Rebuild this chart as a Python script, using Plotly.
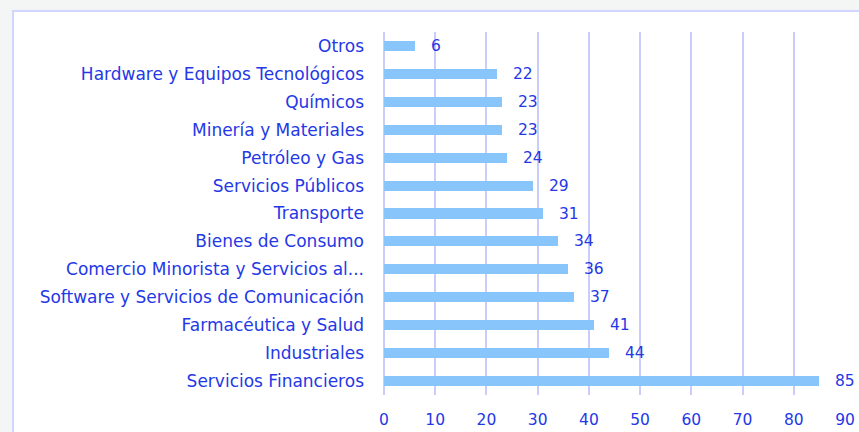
import plotly.graph_objects as go

categories = [
    "Otros",
    "Hardware y Equipos Tecnológicos",
    "Químicos",
    "Minería y Materiales",
    "Petróleo y Gas",
    "Servicios Públicos",
    "Transporte",
    "Bienes de Consumo",
    "Comercio Minorista y Servicios al...",
    "Software y Servicios de Comunicación",
    "Farmacéutica y Salud",
    "Industriales",
    "Servicios Financieros",
]
values = [6, 22, 23, 23, 24, 29, 31, 34, 36, 37, 41, 44, 85]
x_ticks = [0, 10, 20, 30, 40, 50, 60, 70, 80, 90]

W, H = 859, 432
L, R, T, B = 384, 14, 32, 37
pw, ph = W - L - R, H - T - B

def px_to_paper_x(px):
    return (px - L) / pw

def px_to_paper_y(py):
    return (H - B - py) / ph

TEXT = "#2438e6"
BAR = "#87c5fb"
GRID = "#c9cdfc"
FONT = "DejaVu Sans"
FS_CAT = 17
FS_NUM = 15.5

fig = go.Figure()
fig.add_trace(go.Bar(
    y=categories,
    x=values,
    orientation="h",
    marker=dict(color=BAR, line=dict(width=0)),
    width=0.36,
    hoverinfo="skip",
))

for c, v in zip(categories, values):
    fig.add_annotation(
        x=v, y=c, xref="x", yref="y", text=str(v), showarrow=False,
        xanchor="left", xshift=14, font=dict(color=TEXT, size=FS_NUM, family=FONT),
    )

fig.add_shape(
    type="rect", xref="paper", yref="paper",
    x0=px_to_paper_x(13), x1=px_to_paper_x(880),
    y0=px_to_paper_y(450), y1=px_to_paper_y(11),
    fillcolor="white", line=dict(color="#d2d5fd", width=2), layer="below",
)

fig.update_layout(
    width=W, height=H,
    margin=dict(l=L, r=R, t=T, b=B, autoexpand=False),
    paper_bgcolor="#f4f5f5",
    plot_bgcolor="rgba(0,0,0,0)",
    showlegend=False,
    bargap=0,
    font=dict(family=FONT, color=TEXT, size=FS_NUM),
    xaxis=dict(
        range=[0, 90], tickvals=x_ticks, showgrid=True, gridcolor=GRID, gridwidth=2,
        zeroline=True, zerolinecolor=GRID, zerolinewidth=2, showline=False,
        ticks="", ticklabelstandoff=13, tickfont=dict(size=FS_NUM, color=TEXT),
        fixedrange=True, automargin=False,
    ),
    yaxis=dict(
        categoryorder="array", categoryarray=categories, autorange="reversed",
        showgrid=False, zeroline=False, showline=False, ticks="",
        ticklabelstandoff=19, tickfont=dict(size=FS_CAT, color=TEXT),
        fixedrange=True, automargin=False,
    ),
)

fig.write_html("out.html")
